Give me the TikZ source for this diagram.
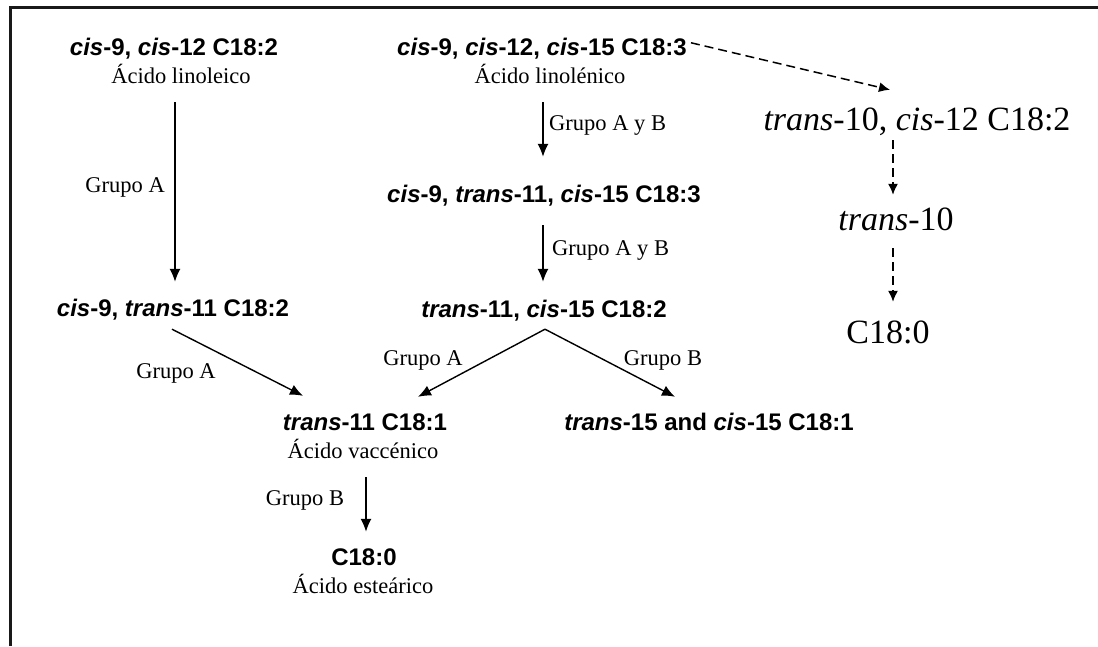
\documentclass[tikz,border=0pt]{standalone}
\usepackage{fontspec}
\setmainfont{Liberation Serif}
\newfontfamily\arialf{Liberation Sans}
\usetikzlibrary{arrows.meta,calc}
\begin{document}
\begin{tikzpicture}[x=1pt,y=-1pt,
  bfx/.style={font=\arialf\bfseries\fontsize{24}{28}\selectfont, inner sep=0pt, anchor=base, text height=17.5pt, text depth=5pt},
  srx/.style={font=\fontsize{22.5}{26}\selectfont, inner sep=0pt, anchor=base, text height=16pt, text depth=5pt},
  bigx/.style={font=\fontsize{34}{40}\selectfont, inner sep=0pt, anchor=base, text height=24pt, text depth=7pt},
  arr/.style={line width=1.4pt, -{Latex[length=13pt,width=11pt]}},
  darr/.style={line width=1.5pt, dash pattern=on 9pt off 5pt, -{Latex[length=11pt,width=10pt]}},
  frame/.style={line width=2.6pt, black!90}]
\useasboundingbox (0,0) rectangle (1098,646);
\draw[frame] (10.5,646) -- (10.5,7.5) -- (1098,7.5);

\node[bfx] (n1) at (174,55) {\textit{cis}-9, \textit{cis}-12 C18:2};
\node[srx] (s1) at (181,83) {Ácido linoleico};
\node[bfx] (n2) at (542,55) {\textit{cis}-9, \textit{cis}-12, \textit{cis}-15 C18:3};
\node[srx] (s2) at (550,83) {Ácido linolénico};
\node[bigx] (n3) at (917,130) {\textit{trans}-10, \textit{cis}-12 C18:2};
\node[bfx] (n4) at (544,202) {\textit{cis}-9, \textit{trans}-11, \textit{cis}-15 C18:3};
\node[bigx] (n5) at (896,230) {\textit{trans}-10};
\node[bfx] (n6) at (173,316) {\textit{cis}-9, \textit{trans}-11 C18:2};
\node[bfx] (n7) at (544,317) {\textit{trans}-11, \textit{cis}-15 C18:2};
\node[bigx] (n8) at (888,343) {C18:0};
\node[bfx] (n9) at (365,430) {\textit{trans}-11 C18:1};
\node[bfx] (n10) at (709,430) {\textit{trans}-15 and \textit{cis}-15 C18:1};
\node[srx] (s9) at (363,458) {Ácido vaccénico};
\node[bfx] (n11) at (364,565) {C18:0};
\node[srx] (s11) at (363,593) {Ácido esteárico};

\node[srx, anchor=base east] (l1) at (165,192) {Grupo A};
\node[srx, anchor=base west] (l2) at (549,130) {Grupo A y B};
\node[srx, anchor=base west] (l3) at (552,255) {Grupo A y B};
\node[srx] (l4) at (176,378) {Grupo A};
\node[srx] (l5) at (423,365) {Grupo A};
\node[srx] (l6) at (663,365) {Grupo B};
\node[srx] (l7) at (305,505) {Grupo B};

\draw[arr] ($(s1.south -| 175,0)+(0,14)$) -- ($(n6.north -| 175,0)+(0,-16.5)$);
\draw[arr] ($(s2.south -| 543,0)+(0,14)$) -- ($(n4.north -| 543,0)+(0,-27.5)$);
\draw[arr] ($(n4.south -| 543,0)+(0,18)$) -- ($(n7.north -| 543,0)+(0,-17.5)$);
\draw[arr] ($(n6.south -| 172,0)+(0,8)$) -- ($(n9.north -| 303,0)+(0,-16.5)$);
\draw[arr] ($(n7.south -| 545,0)+(0,7)$) -- ($(n9.north -| 418,0)+(0,-15.5)$);
\draw[arr] ($(n7.south -| 545,0)+(0,7)$) -- ($(n10.north -| 675,0)+(0,-15.5)$);
\draw[arr] ($(s9.south -| 366,0)+(0,14)$) -- ($(n11.north -| 366,0)+(0,-15.5)$);

\draw[darr] ($(n2.east)+(4,-6)$) -- ($(n3.north -| 890,0)+(0,-16)$);
\draw[darr] ($(n3.south -| 893,0)+(0,3)$) -- ($(n5.north -| 893,0)+(0,-11)$);
\draw[darr] ($(n5.south -| 893,0)+(0,11)$) -- ($(n8.north -| 893,0)+(0,-17)$);
\end{tikzpicture}
\end{document}
